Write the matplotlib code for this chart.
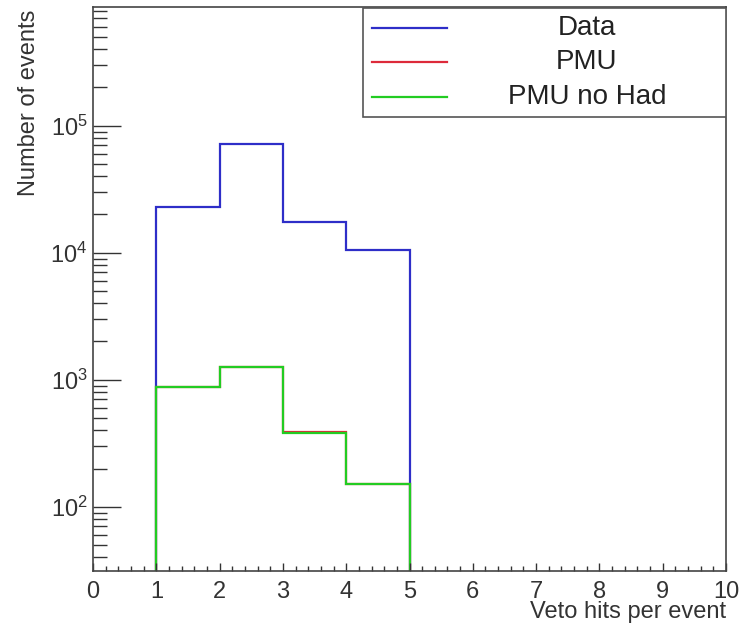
#Veto hits per event histogram - Data vs PMU vs PMU no Had
#log y axis, ROOT-like style

import numpy as np
import matplotlib.pyplot as plt
from matplotlib.ticker import MultipleLocator, LogLocator, NullFormatter

plt.rcParams['font.family'] = ['Liberation Sans', 'DejaVu Sans']
plt.rcParams['mathtext.default'] = 'regular'

# bin edges and bin contents
edges = [1, 2, 3, 4, 5]
data_counts = [22700, 71400, 17300, 10500]
pmu_counts = [880, 1270, 390, 151]
pmu_nohad_counts = [870, 1260, 380, 150]

labels = ["Data", "PMU", "PMU no Had"]
colors = ["#2e2ec8", "#dd2a3a", "#22cc22"]

fig = plt.figure(figsize=(7.4, 6.25), dpi=100)
ax = fig.add_axes([0.1257, 0.0864, 0.8554, 0.9024])

# histograms, drawn as steps that drop to the bottom at the edges
for counts, c in zip([data_counts, pmu_counts, pmu_nohad_counts], colors):
	ax.stairs(counts, edges, baseline=1e-3, color=c, lw=1.6)

ax.set_yscale('log')
ax.set_xlim(0, 10)
ax.set_ylim(31.2, 8.6e5)

ax.xaxis.set_major_locator(MultipleLocator(1))
ax.xaxis.set_minor_locator(MultipleLocator(0.2))
ax.yaxis.set_major_locator(LogLocator(base=10, numticks=10))
ax.yaxis.set_minor_locator(LogLocator(base=10, subs=np.arange(2, 10), numticks=20))
ax.yaxis.set_minor_formatter(NullFormatter())

ax.tick_params(axis='x', which='major', direction='in', length=6, width=1, labelsize=17, pad=7, colors='#333333')
ax.tick_params(axis='x', which='minor', direction='in', length=3.5, width=1, colors='#333333')
ax.tick_params(axis='y', which='major', direction='in', length=20, width=1, labelsize=17, pad=4, colors='#333333')
ax.tick_params(axis='y', which='minor', direction='in', length=10, width=1, colors='#333333')

for s in ax.spines.values():
	s.set_color('#444444')
	s.set_linewidth(1.2)

ax.set_xlabel("Veto hits per event", loc='right', fontsize=17, color='#333333')
ax.set_ylabel("Number of events", loc='top', fontsize=17, color='#333333')
ax.xaxis.set_label_coords(1.0, -0.053)
ax.yaxis.set_label_coords(-0.084, 0.995)
ax.xaxis.label.set_va('top')

# legend box, ROOT style with centered entries
box = plt.Rectangle((0.4265, 0.805), 0.5735, 0.193, transform=ax.transAxes,
	facecolor='white', edgecolor='#555555', lw=1.2, zorder=5)
ax.add_patch(box)
row_y = [0.963, 0.902, 0.840]
for lab, c, yy in zip(labels, colors, row_y):
	ax.plot([0.441, 0.56], [yy, yy], transform=ax.transAxes, color=c, lw=1.6, zorder=6)
	ax.text(0.78, yy, lab, transform=ax.transAxes, ha='center', va='center',
		fontsize=20, color='#222222', zorder=6)

plt.savefig("out.png", dpi=100)
